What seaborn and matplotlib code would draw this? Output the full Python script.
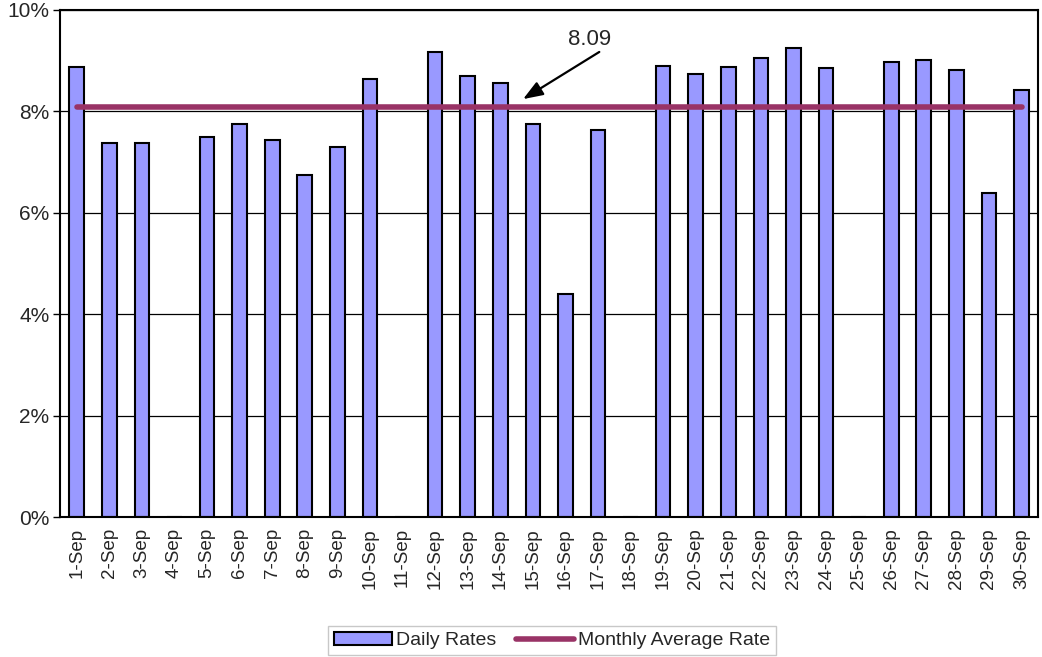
import numpy as np
import pandas as pd
import seaborn as sns
import matplotlib
matplotlib.use('Agg')
import matplotlib.pyplot as plt
from matplotlib.patches import Patch
from matplotlib.lines import Line2D

days = [f"{i}-Sep" for i in range(1, 31)]
daily_rates = [8.88, 7.38, 7.38, 0, 7.50, 7.75, 7.44, 6.75, 7.29, 8.63,
               0, 9.17, 8.69, 8.56, 7.75, 4.40, 7.63, 0, 8.90, 8.74,
               8.88, 9.06, 9.25, 8.85, 0, 8.97, 9.01, 8.82, 6.38, 8.42]
monthly_avg = 8.09

df = pd.DataFrame({"day": days, "rate": daily_rates})
df["avg"] = monthly_avg

sns.set_style("white")
plt.rcParams['font.family'] = ['Liberation Sans', 'DejaVu Sans']

fig, ax = plt.subplots(figsize=(10.42, 6.57), dpi=100)
fig.subplots_adjust(left=0.058, right=0.996, top=0.985, bottom=0.213)

bar_color = "#9999FF"
line_color = "#993366"

sns.barplot(data=df, x="day", y="rate", color=bar_color, edgecolor="black",
            linewidth=1.5, width=0.45, saturation=1, ax=ax)
ax.plot(np.arange(len(days)), df["avg"], color=line_color, lw=4,
        solid_capstyle="round", zorder=3)

ax.set_ylim(0, 10)
ax.set_xlim(-0.5, len(days) - 0.5)
ax.set_yticks([0, 2, 4, 6, 8, 10])
ax.set_yticklabels([f"{v}%" for v in [0, 2, 4, 6, 8, 10]], fontsize=15)
ax.set_xticks(np.arange(len(days)))
ax.set_xticklabels(days, rotation=90, fontsize=13.5)
ax.tick_params(axis='x', length=0, pad=8)
ax.set_xticks(np.arange(-0.5, len(days)), minor=True)
ax.tick_params(axis='x', which='minor', length=5, width=1, color='black', direction='out')
ax.tick_params(axis='y', length=5, width=1, color='black', direction='out', left=True, pad=3)
ax.yaxis.grid(True, color='black', lw=0.9)
ax.set_axisbelow(True)
ax.set_xlabel("")
ax.set_ylabel("")
for s in ax.spines.values():
    s.set_color('black')
    s.set_linewidth(1.5)

# label + arrow pointing at the average line
ax.text(15.73, 9.41, f"{monthly_avg:.2f}", fontsize=16, ha='center', va='center')
ax.annotate("", xy=(13.7, 8.24), xytext=(16.04, 9.17),
            arrowprops=dict(arrowstyle='-|>,head_length=1.2,head_width=0.45',
                            color='black', lw=1.6, shrinkA=0, shrinkB=0))

handles = [Patch(facecolor=bar_color, edgecolor='black', lw=1.5),
           Line2D([0], [0], color=line_color, lw=4)]
leg = fig.legend(handles, ["Daily Rates", "Monthly Average Rate"], loc='lower center',
                 bbox_to_anchor=(0.53, -0.012), ncol=2, fontsize=14, frameon=True,
                 fancybox=False, edgecolor='#bbbbbb', handlelength=3.0,
                 handletextpad=0.2, columnspacing=1.0, borderpad=0.3)
leg.get_frame().set_linewidth(1)

fig.savefig("out.png", dpi=100)
